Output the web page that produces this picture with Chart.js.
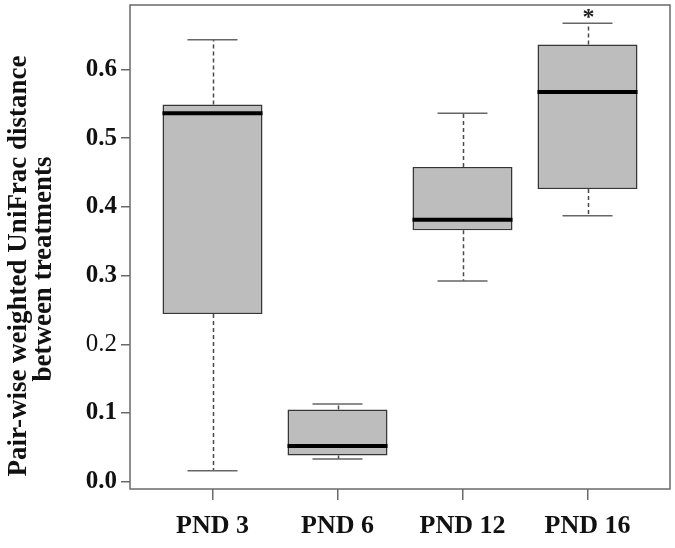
<!DOCTYPE html>
<html>
<head>
<meta charset="utf-8">
<script src="https://cdn.jsdelivr.net/npm/chart.js@4"></script>
<style>
  html, body { margin: 0; padding: 0; background: #fff; }
  #wrap { width: 675px; height: 548px; }
</style>
</head>
<body>
<div id="wrap"><canvas id="boxChart" width="675" height="548"></canvas></div>
<script>
// Data
const groups = ["PND 3", "PND 6", "PND 12", "PND 16"];
const whiskerLow = [0.016, 0.033, 0.292, 0.387];
const boxLow = [0.244, 0.038, 0.366, 0.426];
const medians = [0.536, 0.052, 0.381, 0.567];
const boxHigh = [0.549, 0.105, 0.458, 0.636];
const whiskerHigh = [0.643, 0.113, 0.536, 0.667];
const yTicks = [0.0, 0.1, 0.2, 0.3, 0.4, 0.5, 0.6];
const marks = ["", "", "", "*"]; // significance marks above whiskers
const yTitle = ["Pair-wise weighted UniFrac distance", "between treatments"];

const serif = "'Liberation Serif', 'Times New Roman', serif";
const frameColor = "#6a6a6a";

// whiskers, caps, medians, frame, marks and axis title
const boxExtras = {
  id: "boxExtras",
  afterDatasetsDraw(chart) {
    const ctx = chart.ctx;
    const x = chart.scales.x;
    const y = chart.scales.y;
    const area = chart.chartArea;
    ctx.save();
    groups.forEach(function (g, i) {
      const pos = i + 1;
      const cx = Math.round(x.getPixelForValue(pos)) + 0.5;
      const capL = x.getPixelForValue(pos - 0.2);
      const capR = x.getPixelForValue(pos + 0.2);
      const boxL = x.getPixelForValue(pos - 0.4);
      const boxR = x.getPixelForValue(pos + 0.4);

      // dashed whiskers
      ctx.strokeStyle = "#4a4a4a";
      ctx.lineWidth = 1.5;
      ctx.setLineDash([4, 3]);
      ctx.beginPath();
      ctx.moveTo(cx, y.getPixelForValue(boxHigh[i]));
      ctx.lineTo(cx, y.getPixelForValue(whiskerHigh[i]));
      ctx.moveTo(cx, y.getPixelForValue(boxLow[i]));
      ctx.lineTo(cx, y.getPixelForValue(whiskerLow[i]));
      ctx.stroke();

      // caps
      ctx.setLineDash([]);
      ctx.strokeStyle = "#666";
      ctx.beginPath();
      ctx.moveTo(capL, y.getPixelForValue(whiskerHigh[i]));
      ctx.lineTo(capR, y.getPixelForValue(whiskerHigh[i]));
      ctx.moveTo(capL, y.getPixelForValue(whiskerLow[i]));
      ctx.lineTo(capR, y.getPixelForValue(whiskerLow[i]));
      ctx.stroke();

      // median
      ctx.strokeStyle = "#000";
      ctx.lineWidth = 4;
      ctx.beginPath();
      ctx.moveTo(boxL, y.getPixelForValue(medians[i]));
      ctx.lineTo(boxR, y.getPixelForValue(medians[i]));
      ctx.stroke();

      // significance mark
      if (marks[i]) {
        ctx.fillStyle = "#222";
        ctx.font = "bold 24px " + serif;
        ctx.textAlign = "center";
        ctx.textBaseline = "alphabetic";
        ctx.fillText(marks[i], cx, y.getPixelForValue(whiskerHigh[i]) + 1);
      }
    });

    // frame around the plot
    ctx.strokeStyle = frameColor;
    ctx.lineWidth = 1.5;
    ctx.strokeRect(area.left, area.top, area.right - area.left, area.bottom - area.top);

    // y axis title, two lines, rotated
    ctx.fillStyle = "#111";
    ctx.font = "bold 27px " + serif;
    ctx.textAlign = "center";
    ctx.textBaseline = "alphabetic";
    ctx.translate(0, 266);
    ctx.rotate(-Math.PI / 2);
    ctx.fillText(yTitle[0], 0, 26);
    ctx.fillText(yTitle[1], -3, 51);
    ctx.restore();
  }
};

const ctx = document.getElementById("boxChart").getContext("2d");
const boxChart = new Chart(ctx, {
  type: "bar",
  data: {
    datasets: [
      {
        data: groups.map(function (g, i) {
          return { x: i + 1, y: [boxLow[i], boxHigh[i]] };
        }),
        backgroundColor: "#bdbdbd",
        borderColor: "#363636",
        borderWidth: 1.5,
        borderSkipped: false,
        barPercentage: 0.8,
        categoryPercentage: 1.0
      }
    ]
  },
  options: {
    responsive: false,
    animation: false,
    layout: { padding: { top: 5, right: 5, left: 0, bottom: 0 } },
    plugins: {
      legend: { display: false },
      tooltip: { enabled: false }
    },
    scales: {
      x: {
        type: "linear",
        min: 0.34,
        max: 4.66,
        offset: false,
        afterBuildTicks: function (scale) {
          scale.ticks = groups.map(function (g, i) { return { value: i + 1 }; });
        },
        afterFit: function (scale) {
          scale.height = 59;
          scale.paddingLeft = 0;
          scale.paddingRight = 0;
        },
        grid: {
          offset: false,
          drawOnChartArea: false,
          drawTicks: true,
          tickLength: 11,
          color: frameColor,
          lineWidth: 1.5
        },
        border: { display: false },
        ticks: {
          padding: 11,
          color: "#111",
          font: { family: serif, size: 26, weight: "bold" },
          callback: function (v) { return groups[v - 1]; }
        }
      },
      y: {
        min: -0.0106,
        max: 0.6936,
        afterBuildTicks: function (scale) {
          scale.ticks = yTicks.map(function (v) { return { value: v }; });
        },
        afterFit: function (scale) {
          scale.width = 130;
          scale.paddingTop = 0;
          scale.paddingBottom = 0;
        },
        grid: {
          drawOnChartArea: false,
          drawTicks: true,
          tickLength: 9,
          color: frameColor,
          lineWidth: 1.5
        },
        border: { display: false },
        ticks: {
          padding: 4,
          color: "#111",
          font: function (c) {
            return {
              family: serif,
              size: 25,
              weight: c.tick && Math.abs(c.tick.value - 0.2) < 1e-9 ? "normal" : "bold"
            };
          },
          callback: function (v) { return v.toFixed(1); }
        }
      }
    }
  },
  plugins: [boxExtras]
});
</script>
</body>
</html>
